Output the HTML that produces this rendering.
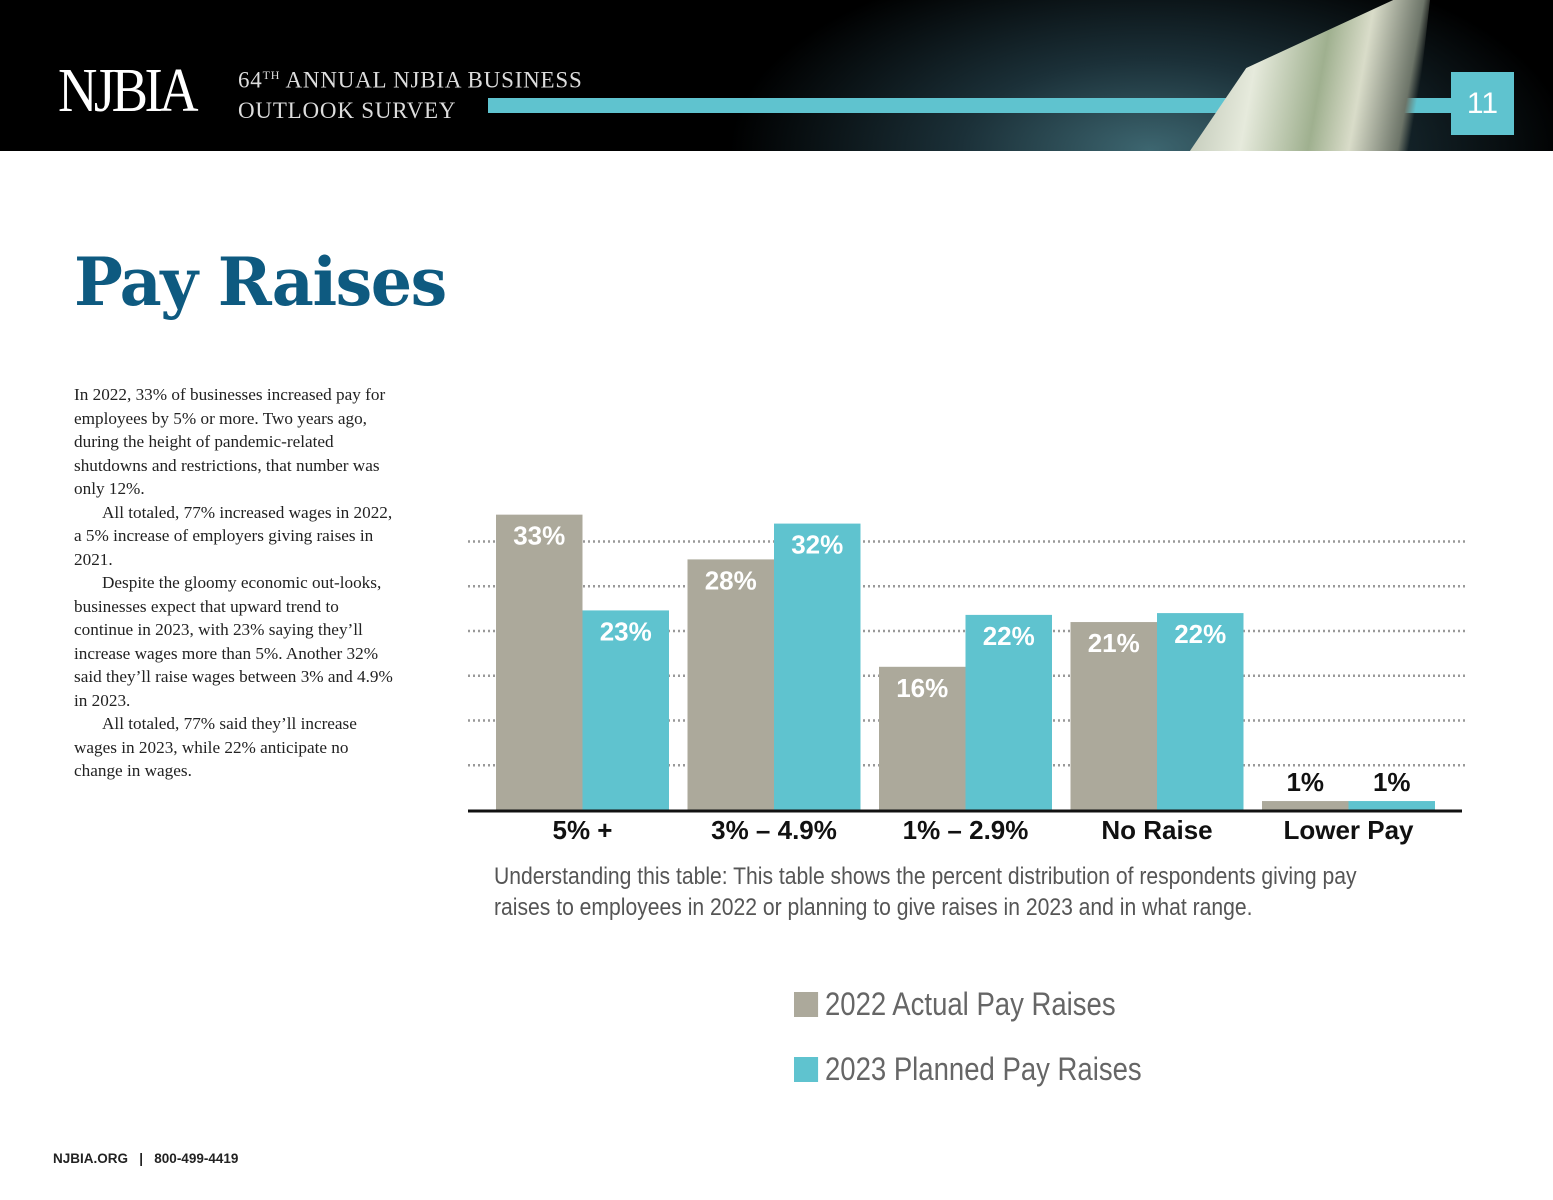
<!DOCTYPE html>
<html><head><meta charset="utf-8">
<style>
body{margin:0;width:1553px;height:1200px;position:relative;background:#fff;overflow:hidden;font-family:"Liberation Sans",sans-serif}
.abs{position:absolute}
#header{left:0;top:0;width:1553px;height:151px;background:radial-gradient(ellipse 420px 200px at 1150px 150px,#3d6670 0%,#1b3038 45%,#000 100%)}
.body p{margin:0;text-indent:28px}
.body p:first-child{text-indent:0}
</style></head><body>
<div id="header" class="abs">
 <div class="abs" style="left:58px;top:56px;font-family:'Liberation Serif',serif;font-size:62px;color:#fff;letter-spacing:-4px;transform:scaleX(0.88);transform-origin:left">NJBIA</div>
 <div class="abs" style="left:238px;top:60px;font-family:'Liberation Serif',serif;font-size:23px;color:#ddd;line-height:30px;letter-spacing:0.8px">64<sup style="font-size:12px">TH</sup> ANNUAL NJBIA BUSINESS<br>OUTLOOK SURVEY</div>
 <div class="abs" style="left:488px;top:98px;width:963px;height:15px;background:#5fc3cf"></div>
 <div class="abs" style="left:1185px;top:0;width:245px;height:151px;background:linear-gradient(100deg,transparent 0%,transparent 8%,#c8cfbf 12%,#e6eadc 30%,#9fb08f 55%,#d9dcc9 70%,#6c7468 88%,transparent 92%);clip-path:polygon(2% 100%,25% 45%,85% 0,100% 0,93% 100%)"></div>
 <div class="abs" style="left:1451px;top:72px;width:63px;height:63px;background:#5fc3cf;color:#fff;font-size:30px;line-height:63px;text-align:center">11</div>
</div>
<div class="abs" style="left:74px;top:243px;font-family:'DejaVu Serif',serif;font-weight:bold;font-size:66px;color:#0e5a80;letter-spacing:-1.5px;transform:scaleX(0.985);transform-origin:left">Pay Raises</div>
<div class="abs body" style="left:74px;top:383px;width:325px;font-family:'Liberation Serif',serif;font-size:17.2px;line-height:23.5px;color:#222">
<p>In 2022, 33% of businesses increased pay for employees by 5% or more. Two years ago, during the height of pandemic-related shutdowns and restrictions, that number was only 12%.</p>
<p>All totaled, 77% increased wages in 2022, a 5% increase of employers giving raises in 2021.</p>
<p>Despite the gloomy economic out-looks, businesses expect that upward trend to continue in 2023, with 23% saying they’ll increase wages more than 5%. Another 32% said they’ll raise wages between 3% and 4.9% in 2023.</p>
<p>All totaled, 77% said they’ll increase wages in 2023, while 22% anticipate no change in wages.</p>
</div>
<svg class="abs" style="left:0;top:0" width="1553" height="1200" id="chart"></svg>
<div class="abs" style="left:494px;top:861px;width:1010px;font-size:24px;line-height:31px;color:#555;transform:scaleX(0.88);transform-origin:left">Understanding this table: This table shows the percent distribution of respondents giving pay raises to employees in 2022 or planning to give raises in 2023 and in what range.</div>
<div class="abs" style="left:794px;top:986px;font-size:32px;color:#666;transform:scaleX(0.86);transform-origin:left"><span style="display:inline-block;width:28px;height:25px;background:#aca99b;vertical-align:-2px;margin-right:8px"></span>2022 Actual Pay Raises</div>
<div class="abs" style="left:794px;top:1051px;font-size:32px;color:#666;transform:scaleX(0.86);transform-origin:left"><span style="display:inline-block;width:28px;height:25px;background:#5fc3cf;vertical-align:-2px;margin-right:8px"></span>2023 Planned Pay Raises</div>
<div class="abs" style="left:53px;top:1151px;font-size:13.5px;font-weight:bold;color:#222">NJBIA.ORG &nbsp;&nbsp;| &nbsp;&nbsp;800-499-4419</div>
<script>
const categories=["5% +","3% – 4.9%","1% – 2.9%","No Raise","Lower Pay"];
const actual2022=[33,28,16,21,1];
const planned2023=[22.3,32,21.8,22,1];
const labels2022=["33%","28%","16%","21%","1%"];
const labels2023=["23%","32%","22%","22%","1%"];
const gridTicks=[5,10,15,20,25,30];
const NS="http://www.w3.org/2000/svg";
const svg=document.getElementById('chart');
const base=810,scale=8.95,x0=496,pitch=191.5,bw=86.5;
const y=v=>base-v*scale;
const xg=i=>x0+i*pitch;
function mk(t,a){const e=document.createElementNS(NS,t);for(const k in a)e.setAttribute(k,a[k]);svg.appendChild(e);return e;}
gridTicks.forEach(v=>{const l=mk('line',{x1:468,x2:1465,y1:y(v),y2:y(v),stroke:'#999','stroke-width':2.5,'stroke-dasharray':'2 3'});

});
categories.forEach((c,i)=>{
 [[actual2022,labels2022,'#aca99b',0],[planned2023,labels2023,'#5fc3cf',1]].forEach(([arr,lab,col,k])=>{
  const v=arr[i],bx=xg(i)+k*bw;
  const r=mk('rect',{x:bx,y:y(v),width:bw,height:v*scale,fill:col});
  
  
  const small=v<5;
  const t=mk('text',{x:bx+bw/2,y:small?y(v)-10:y(v)+30,'text-anchor':'middle','font-size':26,'font-weight':'bold',fill:small?'#111':'#fff','font-family':'Liberation Sans, sans-serif'});
  t.textContent=lab[i];
  
  
 });
 const t=mk('text',{x:xg(i)+bw,y:839,'text-anchor':'middle','font-size':26,'font-weight':'bold',fill:'#111','font-family':'Liberation Sans, sans-serif'});
 t.textContent=c;
 
 
});
const ax=mk('line',{x1:468,x2:1462,y1:base+1,y2:base+1,stroke:'#111','stroke-width':3});


</script>
</body></html>
